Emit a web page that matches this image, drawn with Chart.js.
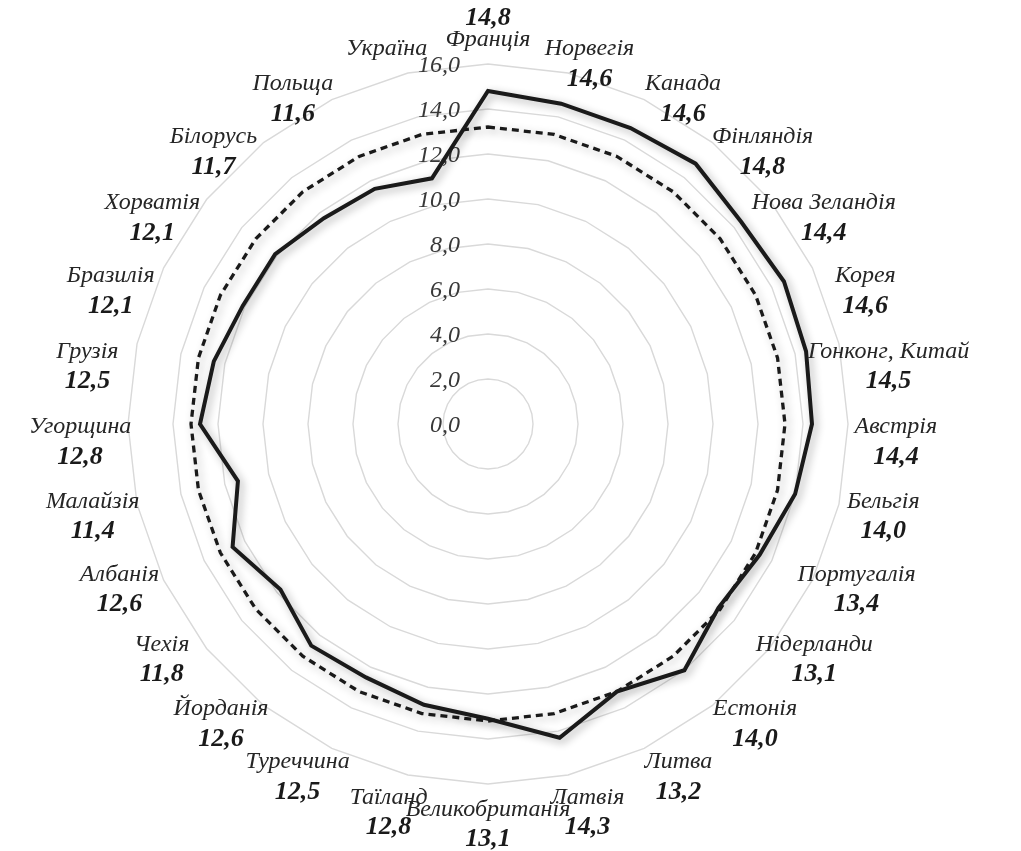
<!DOCTYPE html>
<html lang="uk">
<head>
    <meta charset="UTF-8">
    <title>Radar chart</title>
    <style>
        html, body { margin: 0; padding: 0; background: #fff; }
        .chart-container { width: 1021px; height: 851px; }
    </style>
</head>
<body>
    <div class="chart-container">
        <canvas id="radarChart" width="1021" height="851"></canvas>
    </div>

    <script src="https://cdn.jsdelivr.net/npm/chart.js"></script>
    <script>
        // categories, clockwise from the top
        const countries = [
            'Франція', 'Норвегія', 'Канада', 'Фінляндія', 'Нова Зеландія', 'Корея',
            'Гонконг, Китай', 'Австрія', 'Бельгія', 'Португалія', 'Нідерланди', 'Естонія',
            'Литва', 'Латвія', 'Великобританія', 'Таїланд', 'Туреччина', 'Йорданія',
            'Чехія', 'Албанія', 'Малайзія', 'Угорщина', 'Грузія', 'Бразилія',
            'Хорватія', 'Білорусь', 'Польща', 'Україна'
        ];
        const countryValues = [
            14.8, 14.6, 14.6, 14.8, 14.4, 14.6,
            14.5, 14.4, 14.0, 13.4, 13.1, 14.0,
            13.2, 14.3, 13.1, 12.8, 12.5, 12.6,
            11.8, 12.6, 11.4, 12.8, 12.5, 12.1,
            12.1, 11.7, 11.6, 11.2
        ];
        // dashed series (average)
        const averageValues = [
            13.2, 13.2, 13.2, 13.2, 13.2, 13.2,
            13.2, 13.2, 13.2, 13.2, 13.2, 13.2,
            13.2, 13.2, 13.2, 13.2, 13.2, 13.2,
            13.2, 13.2, 13.2, 13.2, 13.2, 13.2,
            13.2, 13.2, 13.2, 13.2
        ];
        const tickValues = [0, 2, 4, 6, 8, 10, 12, 14, 16];
        const tickLabels = ['0,0', '2,0', '4,0', '6,0', '8,0', '10,0', '12,0', '14,0', '16,0'];
        // categories whose value label is not shown
        const hiddenValueLabels = ['Україна'];

        const serif = '"Liberation Serif", "Times New Roman", serif';

        function fmt(v) {
            return v.toFixed(1).replace('.', ',');
        }

        // tick labels + soft shadow under the lines + category labels
        const radarDecor = {
            id: 'radarDecor',
            beforeDatasetsDraw(chart) {
                const scale = chart.scales.r;
                const ctx = chart.ctx;
                ctx.save();
                ctx.font = 'italic 24px ' + serif;
                ctx.fillStyle = '#383838';
                ctx.textAlign = 'right';
                ctx.textBaseline = 'middle';
                tickValues.forEach((v, i) => {
                    const y = scale.yCenter - scale.getDistanceFromCenterForValue(v);
                    ctx.fillText(tickLabels[i], scale.xCenter - 28, y + 2);
                });
                ctx.restore();

                ctx.save();
                ctx.shadowColor = 'rgba(0, 0, 0, 0.32)';
                ctx.shadowBlur = 8;
                ctx.shadowOffsetX = 3;
                ctx.shadowOffsetY = 3;
            },
            afterDatasetsDraw(chart) {
                chart.ctx.restore();
            },
            afterDraw(chart) {
                const scale = chart.scales.r;
                const ctx = chart.ctx;
                ctx.save();
                ctx.textAlign = 'center';
                ctx.textBaseline = 'middle';
                countries.forEach((name, i) => {
                    const theta = (2 * Math.PI * i) / countries.length;
                    const onTop = Math.cos(theta) > 0.99;
                    // labels drift slightly towards the horizontal, sit a bit lower
                    const shift = 5 * Math.sin(2 * theta) * Math.PI / 180;
                    const angle = scale.getIndexAngle(i) + shift - Math.PI / 2;
                    const upper = onTop ? 0 : Math.pow(Math.max(0, Math.cos(theta)), 3);
                    const dist = scale.drawingArea *
                        (1.133 - 0.07 * Math.max(0, -Math.cos(theta)) - 0.05 * upper);
                    const x = scale.xCenter + Math.cos(angle) * dist;
                    const y = scale.yCenter + Math.sin(angle) * dist + 18;
                    const nameY = onTop ? y + 6 : y - 15;
                    const valueY = onTop ? y - 16 : y + 15;

                    ctx.font = 'italic 24px ' + serif;
                    ctx.fillStyle = '#262626';
                    ctx.fillText(name, x, nameY);

                    if (!hiddenValueLabels.includes(name)) {
                        ctx.font = 'italic bold 26px ' + serif;
                        ctx.fillStyle = '#1a1a1a';
                        ctx.fillText(fmt(countryValues[i]), x, valueY);
                    }
                });
                ctx.restore();
            }
        };

        const ctx = document.getElementById('radarChart').getContext('2d');

        const radarChart = new Chart(ctx, {
            type: 'radar',
            data: {
                labels: countries,
                datasets: [{
                    label: 'Країни',
                    data: countryValues,
                    borderColor: '#1a1a1a',
                    borderWidth: 4,
                    fill: false,
                    pointRadius: 0,
                    tension: 0
                }, {
                    label: 'Середнє',
                    data: averageValues,
                    borderColor: '#1a1a1a',
                    borderWidth: 3.3,
                    borderDash: [7, 5],
                    fill: false,
                    pointRadius: 0,
                    tension: 0
                }]
            },
            options: {
                responsive: false,
                animation: false,
                devicePixelRatio: 1,
                layout: {
                    padding: { left: 128, right: 173, top: 64, bottom: 67 }
                },
                plugins: {
                    legend: { display: false },
                    tooltip: { enabled: false }
                },
                scales: {
                    r: {
                        min: 0,
                        max: 16,
                        ticks: { stepSize: 2, display: false },
                        grid: { color: '#d9d9d9', lineWidth: 1.4, circular: false },
                        angleLines: { display: false },
                        pointLabels: { display: false }
                    }
                }
            },
            plugins: [radarDecor]
        });
    </script>
</body>
</html>
